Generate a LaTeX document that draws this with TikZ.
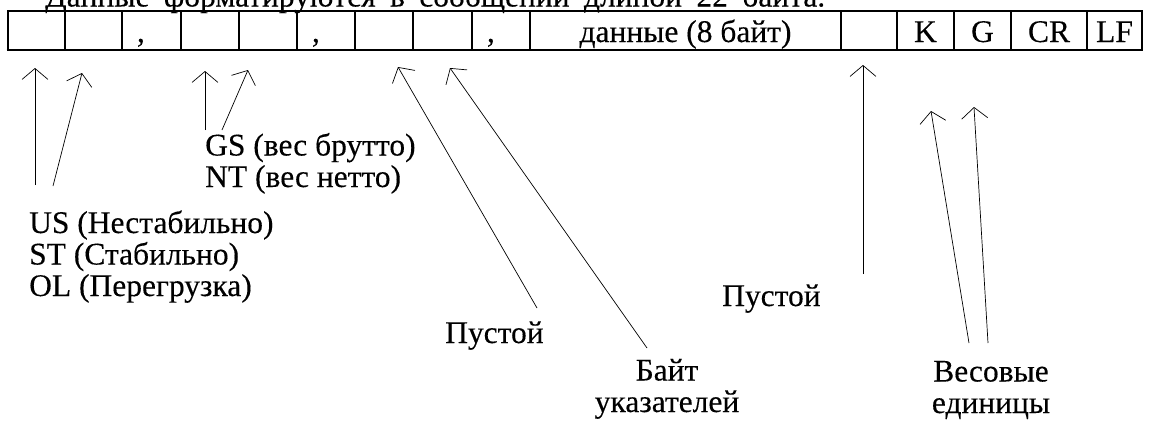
\documentclass[tikz,border=0pt]{standalone}
\usepackage{fontspec}
\setmainfont{Liberation Serif}[UprightFeatures={FakeBold=0.25}]
\usetikzlibrary{positioning, arrows.meta}
\tikzset{
  big_font/.style = {font=\fontsize{31.5}{31.5}\selectfont},
  cell/.style = {big_font, draw, line width=1.5pt, inner sep=0, outer sep=0,
    minimum width=#1, text height=31pt, text depth=8pt},
  comma_cell/.style = {cell=#1, text width=#1, align=left},
  note/.style = {big_font, inner sep=0, align=left, anchor=base west},
  note_mid/.style = {note, align=center, anchor=base},
  pointer/.style = {-{Straight Barb[length=11pt, width=26pt]}, line width=0.7pt}
}

\begin{document}
\begin{tikzpicture}[x=1pt, y=-1pt, node distance=0]
        \useasboundingbox (0,0) rectangle (1152,421);

        % Heading, cut by the page edge
        \node[note] at (45,6.5) (heading) {\makebox[780pt][s]{Данные форматируются в сообщении длиной 22 байта.}};

        % Message frame
        \node[cell=57pt, anchor=north west] at (8,11) (cell_1) {};
        \node[cell=57pt, right=of cell_1] (cell_2) {};
        \node[comma_cell=59pt, right=of cell_2] (cell_3) {\hspace*{15pt},};
        \node[cell=58pt, right=of cell_3] (cell_4) {};
        \node[cell=58pt, right=of cell_4] (cell_5) {};
        \node[comma_cell=58pt, right=of cell_5] (cell_6) {\hspace*{15pt},};
        \node[cell=58pt, right=of cell_6] (cell_7) {};
        \node[cell=59pt, right=of cell_7] (cell_8) {};
        \node[comma_cell=58pt, right=of cell_8] (cell_9) {\hspace*{15pt},};
        \node[cell=311pt, right=of cell_9] (cell_data) {данные (8 байт)};
        \node[cell=56pt, right=of cell_data] (cell_gap) {};
        \node[cell=57pt, right=of cell_gap] (cell_k) {K};
        \node[cell=57pt, right=of cell_k] (cell_g) {G};
        \node[cell=76pt, right=of cell_g] (cell_cr) {CR};
        \node[cell=55pt, right=of cell_cr] (cell_lf) {LF};

        \draw[line width=2.3pt] ([xshift=-1.5pt]cell_1.south west)--(cell_lf.south east);

        % Captions (base = last line)
        \node[note] at (29,296) (status) {
            US (Нестабильно)\\
            ST (Стабильно)\\
            OL (Перегрузка)};
        \node[note] at (205,187) (gross) {
            GS (вес брутто)\\
            NT (вес нетто)};
        \node[note] at (445,343) (empty_1) {Пустой};
        \node[note_mid] at (667,412) (flags) {
            Байт\\
            указателей};
        \node[note] at (722,306) (empty_2) {Пустой};
        \node[note_mid] at (991,413) (units) {
            Весовые\\
            единицы};

        % Arrows
        \coordinate (tail_1) at (35,185);  \coordinate (tip_1) at (35,68);
        \coordinate (tail_2) at (53,186);  \coordinate (tip_2) at (82,73);
        \coordinate (tail_3) at (205,130); \coordinate (tip_3) at (205,71);
        \coordinate (tail_4) at (222,130); \coordinate (tip_4) at (248,70);
        \coordinate (tail_5) at (537,308); \coordinate (tip_5) at (398,67);
        \coordinate (tail_6) at (647,348); \coordinate (tip_6) at (450,68);
        \coordinate (tail_7) at (863,274); \coordinate (tip_7) at (863,65);
        \coordinate (tail_8) at (969,343); \coordinate (tip_8) at (931,111);
        \coordinate (tail_9) at (988,343); \coordinate (tip_9) at (974,107);

        \draw[pointer] (tail_1)--(tip_1);
        \draw[pointer] (tail_2)--(tip_2);
        \draw[pointer] (tail_3)--(tip_3);
        \draw[pointer] (tail_4)--(tip_4);
        \draw[pointer] (tail_5)--(tip_5);
        \draw[pointer] (tail_6)--(tip_6);
        \draw[pointer] (tail_7)--(tip_7);
        \draw[pointer] (tail_8)--(tip_8);
        \draw[pointer] (tail_9)--(tip_9);
\end{tikzpicture}
\end{document}
